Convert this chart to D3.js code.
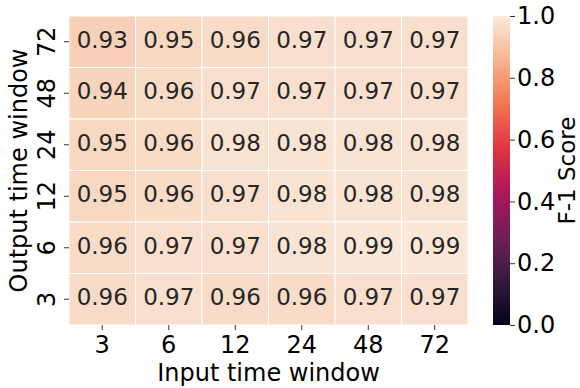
<!DOCTYPE html>
<html>
<head>
<meta charset="utf-8">
<script src="https://cdn.jsdelivr.net/npm/d3@7"></script>
<style>
  html, body { margin: 0; padding: 0; background: #fff; }
  svg { display: block; font-family: "DejaVu Sans", sans-serif; }
</style>
</head>
<body>
<svg id="chart" width="580" height="388"></svg>
<script>
// ---- Data ----
const inputWindows = ["3", "6", "12", "24", "48", "72"];          // columns (x)
const outputWindows = ["72", "48", "24", "12", "6", "3"];         // rows (y), top to bottom
const row72 = [0.93, 0.95, 0.96, 0.97, 0.97, 0.97];
const row48 = [0.94, 0.96, 0.97, 0.97, 0.97, 0.97];
const row24 = [0.95, 0.96, 0.98, 0.98, 0.98, 0.98];
const row12 = [0.95, 0.96, 0.97, 0.98, 0.98, 0.98];
const row6  = [0.96, 0.97, 0.97, 0.98, 0.99, 0.99];
const row3  = [0.96, 0.97, 0.96, 0.96, 0.97, 0.97];
const colorbarTicks = [0.0, 0.2, 0.4, 0.6, 0.8, 1.0];

const rows = [row72, row48, row24, row12, row6, row3];
const cells = [];
outputWindows.forEach((o, i) => {
  inputWindows.forEach((inp, j) => cells.push({ row: o, col: inp, value: rows[i][j] }));
});

// ---- Rocket colormap approximation ----
const rocketStops = [
  [0.000, "#03051a"],
  [0.143, "#35193e"],
  [0.286, "#701f57"],
  [0.429, "#ad1759"],
  [0.571, "#e13342"],
  [0.714, "#f37651"],
  [0.857, "#f6b48f"],
  [1.000, "#faebdd"]
];
const rocket = d3.scaleLinear()
  .domain(rocketStops.map(d => d[0]))
  .range(rocketStops.map(d => d[1]))
  .interpolate(d3.interpolateRgb)
  .clamp(true);

// ---- Layout ----
const svg = d3.select("#chart");
const plot = { left: 69, right: 468, top: 16, bottom: 325 };

const x = d3.scaleBand().domain(inputWindows).range([plot.left, plot.right]);
const y = d3.scaleBand().domain(outputWindows).range([plot.top, plot.bottom]);

// cells
svg.append("g").selectAll("rect").data(cells).join("rect")
  .attr("x", d => x(d.col))
  .attr("y", d => y(d.row))
  .attr("width", x.bandwidth())
  .attr("height", y.bandwidth())
  .attr("fill", d => rocket(d.value))
  .attr("stroke", "#ffffff")
  .attr("stroke-width", 1);

// annotations
svg.append("g").selectAll("text").data(cells).join("text")
  .attr("x", d => x(d.col) + x.bandwidth() / 2)
  .attr("y", d => y(d.row) + y.bandwidth() / 2)
  .attr("text-anchor", "middle")
  .attr("dy", "0.26em")
  .attr("font-size", 23)
  .attr("fill", "#262626")
  .text(d => d.value.toFixed(2));

// x axis
const xAxis = svg.append("g")
  .attr("transform", `translate(0,${plot.bottom})`)
  .call(d3.axisBottom(x).tickSize(5).tickPadding(0));
xAxis.select(".domain").remove();
xAxis.selectAll(".tick line").attr("stroke", "#000").attr("stroke-width", 0.8);
xAxis.selectAll(".tick text")
  .attr("y", 28).attr("dy", 0)
  .attr("font-size", 24).attr("fill", "#000")
  .attr("font-family", "DejaVu Sans");

// y axis
const yAxis = svg.append("g")
  .attr("transform", `translate(${plot.left},0)`)
  .call(d3.axisLeft(y).tickSize(5));
yAxis.select(".domain").remove();
yAxis.selectAll(".tick line").attr("stroke", "#000").attr("stroke-width", 0.8);
yAxis.selectAll(".tick text")
  .attr("x", null).attr("dy", null)
  .attr("transform", "translate(-14,0) rotate(-90)")
  .attr("text-anchor", "middle")
  .attr("font-size", 24).attr("fill", "#000")
  .attr("font-family", "DejaVu Sans");

// axis labels
svg.append("text")
  .attr("x", (plot.left + plot.right) / 2)
  .attr("y", 381)
  .attr("text-anchor", "middle")
  .attr("font-size", 24)
  .attr("fill", "#000")
  .text("Input time window");

svg.append("text")
  .attr("transform", `translate(27,${(plot.top + plot.bottom) / 2}) rotate(-90)`)
  .attr("text-anchor", "middle")
  .attr("font-size", 24)
  .attr("fill", "#000")
  .text("Output time window");

// ---- Colorbar ----
const cb = { x: 493, w: 17, top: 16, bottom: 325 };
const cScale = d3.scaleLinear().domain([0, 1]).range([cb.bottom, cb.top]);

const defs = svg.append("defs");
const grad = defs.append("linearGradient")
  .attr("id", "rocketGrad")
  .attr("x1", "0").attr("y1", "1").attr("x2", "0").attr("y2", "0");
d3.range(0, 1.0001, 0.02).forEach(t => {
  grad.append("stop").attr("offset", t).attr("stop-color", rocket(t));
});

svg.append("rect")
  .attr("x", cb.x)
  .attr("y", cb.top)
  .attr("width", cb.w)
  .attr("height", cb.bottom - cb.top)
  .attr("fill", "url(#rocketGrad)");

const cAxis = svg.append("g")
  .attr("transform", `translate(${cb.x + cb.w},0)`)
  .call(d3.axisRight(cScale).tickValues(colorbarTicks).tickFormat(d3.format(".1f")).tickSize(5).tickPadding(2));
cAxis.select(".domain").remove();
cAxis.selectAll(".tick line").attr("stroke", "#000").attr("stroke-width", 0.8);
cAxis.selectAll(".tick text")
  .attr("font-size", 24).attr("fill", "#000")
  .attr("font-family", "DejaVu Sans");

svg.append("text")
  .attr("transform", `translate(574.5,${(cb.top + cb.bottom) / 2}) rotate(-90)`)
  .attr("text-anchor", "middle")
  .attr("font-size", 23)
  .attr("fill", "#000")
  .text("F-1 Score");
</script>
</body>
</html>
